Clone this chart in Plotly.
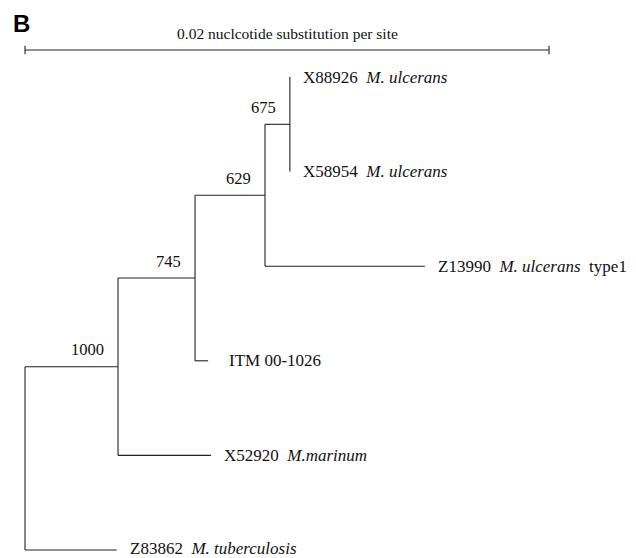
import plotly.graph_objects as go

# Tree structure: node -> (children), branch lengths in substitutions/site
tip_names = ["X88926", "X58954", "Z13990", "ITM 00-1026", "X52920", "Z83862"]
tip_species = ["M. ulcerans", "M. ulcerans", "M. ulcerans", "", "M.marinum", "M. tuberculosis"]
tip_suffix = ["", "", "type1", "", "", ""]
children = {
    "root": ["n1000", "Z83862"],
    "n1000": ["n745", "X52920"],
    "n745": ["n629", "ITM 00-1026"],
    "n629": ["n675", "Z13990"],
    "n675": ["X88926", "X58954"],
}
branch_len = {
    "n1000": 0.00355, "Z83862": 0.00350,
    "n745": 0.00294, "X52920": 0.00355,
    "n629": 0.00267, "ITM 00-1026": 0.00050,
    "n675": 0.00095, "Z13990": 0.00610,
    "X88926": 0.0, "X58954": 0.0,
}
bootstrap = {"n1000": "1000", "n745": "745", "n629": "629", "n675": "675"}
scale_len = 0.02
scale_label = "0.02 nuclcotide substitution per site"

# compute positions
xpos = {"root": 0.0}
ypos = {}
for i, t in enumerate(tip_names):
    ypos[t] = i

def set_x(n):
    for c in children.get(n, []):
        xpos[c] = xpos[n] + branch_len[c]
        set_x(c)

def set_y(n):
    if n in ypos:
        return ypos[n]
    ys = [set_y(c) for c in children[n]]
    ypos[n] = sum(ys) / len(ys)
    return ypos[n]

set_x("root")
set_y("root")

xs, ys = [], []
for n, cs in children.items():
    cy = [ypos[c] for c in cs]
    xs += [xpos[n], xpos[n], None]
    ys += [min(cy), max(cy), None]
    for c in cs:
        xs += [xpos[n], xpos[c], None]
        ys += [ypos[c], ypos[c], None]

line_col = "#222222"
fig = go.Figure()
fig.add_trace(go.Scatter(x=xs, y=ys, mode="lines",
                         line=dict(color=line_col, width=1.1),
                         hoverinfo="skip", showlegend=False))

# scale bar
sb_y = -0.285
fig.add_trace(go.Scatter(x=[0, scale_len, None, 0, 0, None, scale_len, scale_len],
                         y=[sb_y, sb_y, None, sb_y - 0.045, sb_y + 0.045, None, sb_y - 0.045, sb_y + 0.045],
                         mode="lines", line=dict(color=line_col, width=1.1),
                         hoverinfo="skip", showlegend=False))

serif = "Liberation Serif, Times New Roman, serif"
font_tip = dict(family=serif, size=17, color="#111111")
font_boot = dict(family=serif, size=16.5, color="#111111")
font_scale = dict(family=serif, size=15.5, color="#111111")

fig.add_annotation(x=scale_len / 2, y=sb_y, text=scale_label, showarrow=False,
                   yanchor="bottom", yshift=6, font=font_scale)

tip_gap = {"ITM 00-1026": 19}
tip_yshift = {"Z83862": 2}
for t, sp, sf in zip(tip_names, tip_species, tip_suffix):
    txt = t
    if sp:
        txt += "&nbsp; <i>" + sp + "</i>"
    if sf:
        txt += "&nbsp; " + sf
    fig.add_annotation(x=xpos[t], y=ypos[t], text=txt, showarrow=False,
                       xanchor="left", yanchor="middle", xshift=tip_gap.get(t, 11),
                       yshift=tip_yshift.get(t, 0), font=font_tip)

for n, b in bootstrap.items():
    fig.add_annotation(x=xpos[n], y=ypos[n], text=b, showarrow=False,
                       xanchor="right", yanchor="middle", xshift=-12, yshift=17, font=font_boot)

fig.add_annotation(x=0, y=1, xref="paper", yref="paper", text="<b>B</b>", showarrow=False,
                   xanchor="left", yanchor="top", xshift=11, yshift=-8,
                   font=dict(family="Liberation Sans, Arial, sans-serif", size=24, color="#000000"))

px_per_unit = 26200.0
fig.update_layout(
    width=636, height=558,
    margin=dict(l=0, r=0, t=0, b=0),
    paper_bgcolor="white", plot_bgcolor="white",
    xaxis=dict(range=[-25 / px_per_unit, (636 - 25) / px_per_unit], visible=False, fixedrange=True),
    yaxis=dict(range=[(558 - 77) / 94.6, -77 / 94.6], visible=False, fixedrange=True),
)
fig.write_html("out.html", config={"displayModeBar": False},
               post_script="document.body.style.margin='0';")
